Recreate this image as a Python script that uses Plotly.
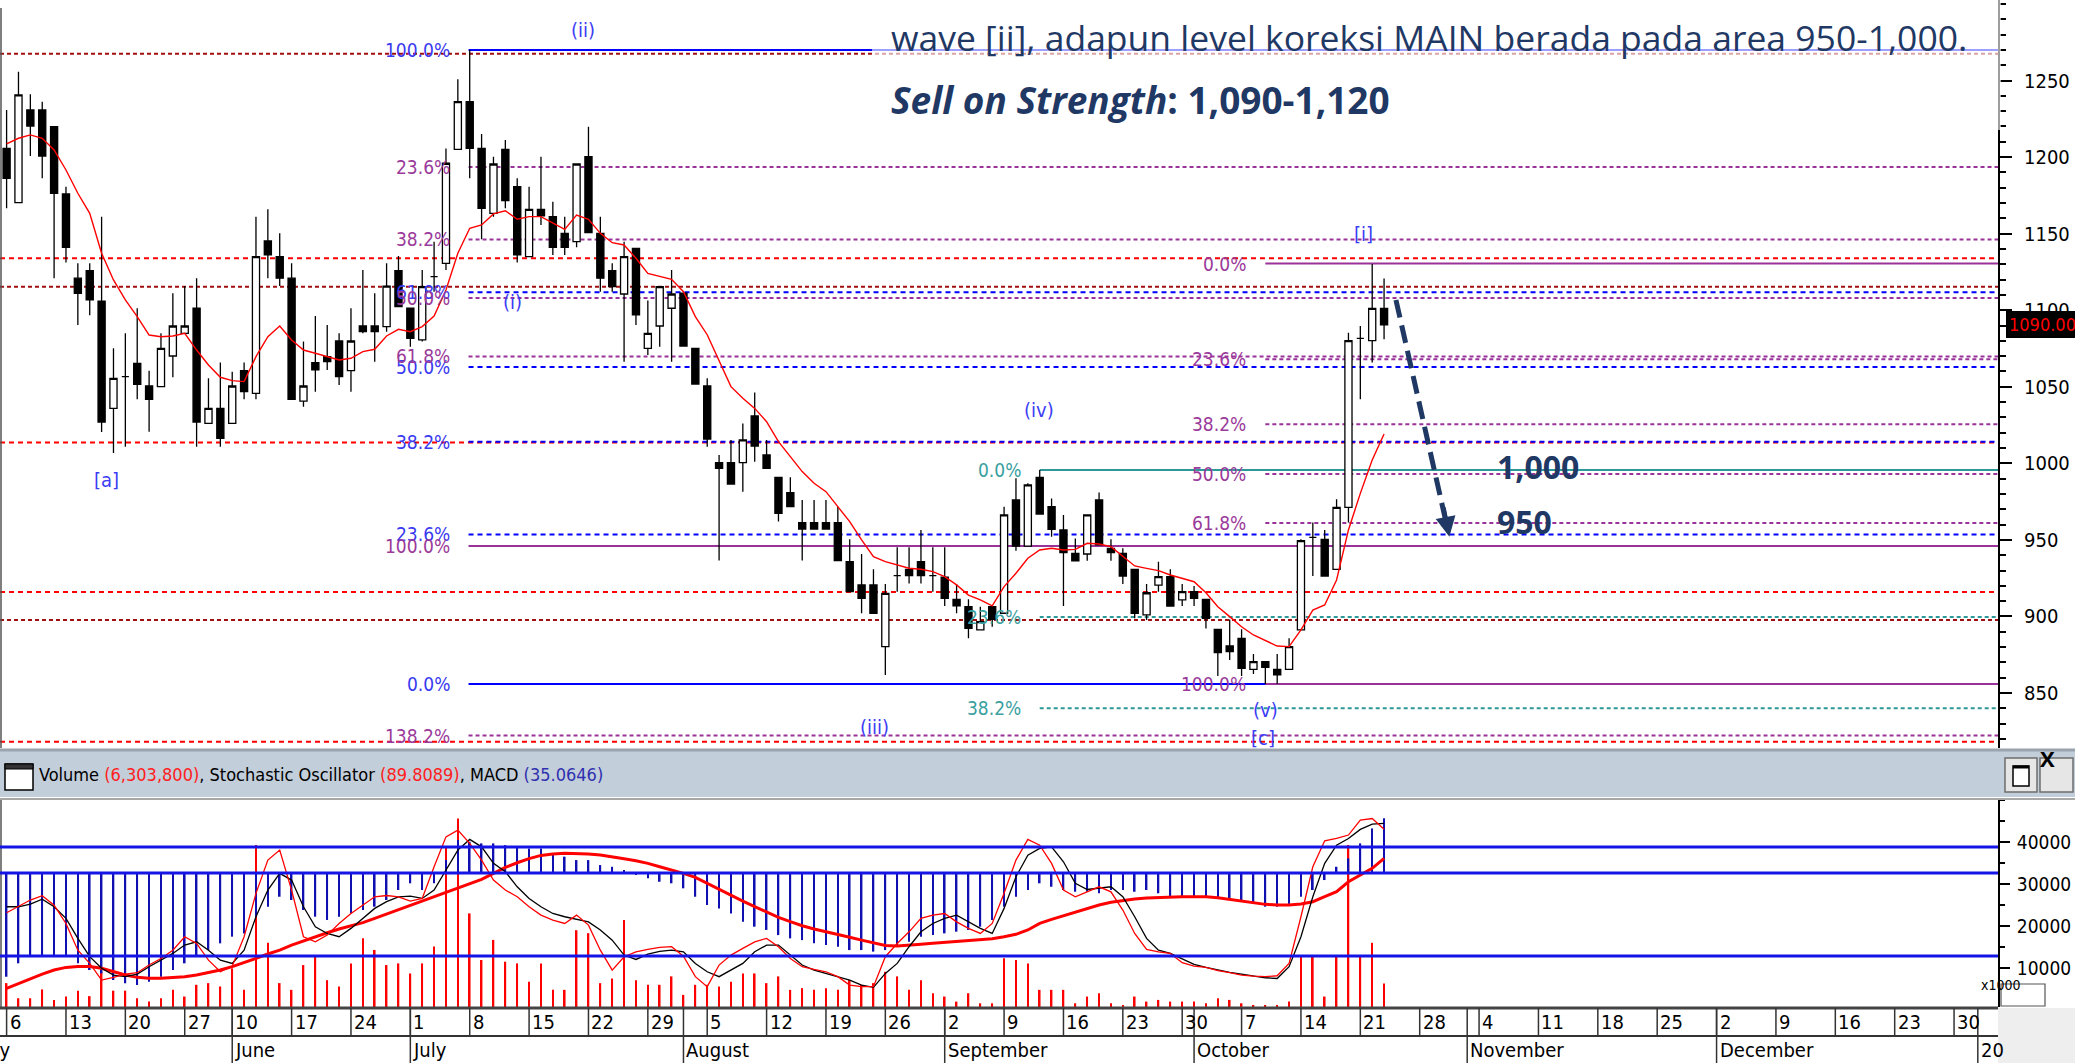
import plotly.graph_objects as go

W, H = 2075, 1063
def px(v): return v / W
def py(v): return 1 - v / H

NARROW = "'Liberation Sans Narrow', 'Arial Narrow', 'DejaVu Sans Condensed', 'Roboto Condensed', sans-serif"
SANS = "'Open Sans', 'Noto Sans', sans-serif"
NAVY = "#1F3864"

# ---------------- price data (MAIN, daily, 6 May - 23 Oct) ----------------
open_ = [1205.7, 1170.3, 1230.8, 1230.8, 1219.9, 1175.9, 1120.9, 1125.9, 1106.0, 1035.9,
         1056.6, 1065.3, 1050.5, 1050.1, 1070.1, 1084.9, 1101.3, 1026.1, 1035.9, 1026.1,
         1060.5, 1045.7, 1145.2, 1135.0, 1120.9, 1040.7, 1065.8, 1069.7, 1079.9, 1060.5,
         1089.7, 1089.7, 1089.3, 1125.9, 1101.3, 1080.6, 1121.9, 1130.6, 1205.1, 1236.2,
         1205.7, 1163.3, 1205.1, 1180.7, 1135.0, 1165.9, 1161.1, 1150.2, 1144.8, 1200.3,
         1150.2, 1125.9, 1110.6, 1140.4, 1075.1, 1089.7, 1101.3, 1111.1, 1075.1, 1050.5,
         1000.5, 1000.5, 1000.5, 1031.0, 1005.5, 990.9, 980.9, 961.3, 961.3, 961.3,
         961.3, 935.8, 920.6, 920.6, 880.3, 926.7, 930.8, 935.8, 926.7, 925.6,
         911.2, 906.4, 891.2, 906.4, 902.1, 976.1, 946.0, 990.9, 971.7, 956.5,
         941.2, 940.8, 976.1, 944.5, 941.2, 930.8, 901.0, 920.5, 926.0, 910.8,
         916.2, 911.2, 891.6, 880.7, 885.7, 865.5, 870.5, 865.5, 865.5, 891.2,
         951.7, 950.4, 930.8, 971.3, 1081.6, 1080.1, 1101.2]
high = [1230.8, 1255.8, 1241.0, 1236.2, 1219.9, 1180.7, 1130.6, 1130.6, 1161.1, 1075.1,
        1084.9, 1101.3, 1060.5, 1084.9, 1111.1, 1115.8, 1120.9, 1055.5, 1065.8, 1059.9,
        1065.8, 1161.1, 1165.9, 1150.2, 1130.6, 1079.5, 1096.2, 1090.4, 1084.9, 1101.3,
        1126.3, 1111.1, 1130.6, 1135.4, 1101.3, 1126.3, 1144.8, 1205.7, 1250.8, 1270.0,
        1215.1, 1200.3, 1211.2, 1186.2, 1180.7, 1200.3, 1170.9, 1161.1, 1195.5, 1219.9,
        1161.1, 1130.6, 1144.8, 1140.4, 1106.3, 1115.4, 1126.3, 1111.1, 1075.1, 1055.5,
        1005.5, 1015.3, 1026.1, 1046.2, 1015.3, 990.9, 990.9, 976.1, 976.1, 976.1,
        971.7, 950.4, 940.8, 930.8, 921.2, 945.2, 945.2, 956.5, 945.2, 945.2,
        921.2, 911.2, 906.4, 906.4, 971.7, 990.2, 987.0, 995.6, 977.1, 966.3,
        951.0, 966.3, 980.9, 950.4, 944.5, 930.8, 921.2, 935.8, 930.8, 921.2,
        919.9, 911.2, 891.6, 898.1, 891.6, 875.5, 870.5, 875.5, 885.7, 950.4,
        961.3, 956.5, 976.5, 1085.3, 1089.7, 1130.2, 1120.8]
low = [1166.6, 1170.3, 1200.7, 1186.2, 1120.9, 1131.1, 1090.4, 1096.7, 1020.5, 1006.8,
       1010.9, 1041.8, 1020.7, 1050.1, 1056.2, 1084.9, 1010.9, 1026.1, 1010.9, 1026.1,
       1041.8, 1041.8, 1120.9, 1115.8, 1041.8, 1037.0, 1046.8, 1061.0, 1051.2, 1046.8,
       1084.9, 1066.4, 1086.0, 1102.3, 1076.2, 1079.5, 1112.1, 1126.3, 1205.1, 1186.2,
       1146.3, 1161.1, 1166.6, 1131.1, 1135.0, 1155.7, 1136.1, 1136.1, 1141.1, 1150.7,
       1112.1, 1112.1, 1066.4, 1090.4, 1070.8, 1076.2, 1066.4, 1076.6, 1051.8, 1010.9,
       936.5, 986.5, 981.5, 1001.1, 996.8, 962.0, 971.7, 936.5, 957.1, 957.1,
       936.5, 916.2, 902.1, 902.1, 861.8, 916.2, 921.6, 921.6, 916.2, 906.9,
       902.1, 885.7, 891.2, 893.3, 902.1, 943.0, 946.0, 966.9, 952.1, 906.8,
       936.4, 936.4, 946.7, 936.4, 921.2, 898.8, 897.7, 916.2, 906.8, 906.8,
       906.8, 892.2, 861.1, 871.6, 861.1, 862.4, 855.9, 855.9, 865.5, 891.2,
       926.4, 926.4, 930.8, 961.3, 1041.8, 1065.8, 1081.0]
close = [1186.2, 1240.6, 1220.3, 1200.7, 1176.4, 1141.1, 1111.1, 1106.7, 1027.0, 1055.5,
         1056.6, 1051.6, 1041.8, 1075.1, 1089.7, 1089.7, 1027.0, 1035.9, 1016.4, 1050.5,
         1046.8, 1135.0, 1136.1, 1120.9, 1041.8, 1050.5, 1061.0, 1066.4, 1056.6, 1079.9,
         1086.0, 1086.0, 1115.8, 1102.3, 1081.7, 1115.4, 1121.9, 1196.0, 1236.2, 1205.7,
         1166.6, 1195.5, 1171.6, 1136.1, 1165.9, 1161.6, 1141.1, 1141.1, 1195.5, 1150.7,
         1120.9, 1115.4, 1135.0, 1096.9, 1084.9, 1115.4, 1110.6, 1076.6, 1051.8, 1015.9,
         996.8, 986.5, 1015.3, 1011.3, 996.8, 967.4, 971.7, 957.1, 957.1, 957.1,
         936.5, 916.2, 911.9, 902.1, 915.1, 926.7, 926.7, 926.7, 926.7, 911.9,
         906.9, 892.3, 896.6, 898.1, 966.3, 946.0, 985.9, 966.9, 956.9, 941.7,
         936.4, 966.3, 946.7, 941.7, 926.4, 902.0, 915.5, 926.0, 906.8, 916.2,
         911.8, 898.8, 876.4, 877.0, 866.1, 870.5, 866.8, 861.8, 880.3, 949.5,
         951.7, 926.4, 971.3, 1080.1, 1081.6, 1101.2, 1090.4]
ma_line = [1208.6, 1212.3, 1214.5, 1212.3, 1204.7, 1191.6, 1176.4, 1163.3, 1137.2, 1119.8,
           1106.7, 1095.8, 1083.8, 1082.7, 1083.2, 1084.9, 1074.0, 1064.2, 1056.2, 1054.0,
           1053.4, 1069.7, 1082.7, 1089.7, 1080.6, 1074.0, 1071.9, 1069.7, 1067.5, 1068.6,
           1073.0, 1074.5, 1083.2, 1087.5, 1086.0, 1089.3, 1096.2, 1113.2, 1137.2, 1153.5,
           1155.7, 1162.9, 1165.0, 1159.4, 1161.1, 1161.1, 1156.8, 1152.8, 1162.2, 1159.4,
           1150.2, 1144.1, 1142.6, 1133.9, 1124.1, 1121.9, 1120.2, 1112.1, 1095.8, 1084.0,
           1067.5, 1050.1, 1042.5, 1035.9, 1027.2, 1014.2, 1004.4, 994.6, 987.0, 981.5,
           971.7, 961.9, 950.0, 939.1, 935.8, 933.6, 931.5, 930.8, 929.3, 926.0,
           920.6, 914.0, 910.8, 906.9, 919.5, 928.2, 938.0, 943.4, 944.5, 943.4,
           943.8, 947.8, 947.3, 945.6, 939.1, 933.0, 931.4, 929.9, 927.1, 924.9,
           922.7, 915.5, 906.4, 899.9, 893.3, 887.9, 884.2, 880.7, 880.3, 891.2,
           904.2, 907.5, 923.8, 956.5, 980.4, 1002.2, 1019.2]

# ---------------- indicator data ----------------
volume_k = [6400, 2800, 2800, 4900, 2400, 3200, 4600, 3300, 9100, 4600,
            4600, 2800, 2000, 2800, 4800, 3200, 6000, 6400, 5600, 9900,
            4800, 39300, 16000, 6400, 4800, 10700, 13100, 7100, 5600, 11100,
            17100, 14300, 10700, 11100, 8700, 11100, 15100, 38900, 45600, 23000,
            11900, 16700, 11500, 11100, 6700, 11100, 4800, 4800, 19000, 18300,
            6400, 7500, 21400, 7100, 6000, 6000, 8000, 3600, 6000, 6000,
            5600, 6700, 8700, 8700, 6400, 8000, 4800, 5200, 4800, 5200,
            4800, 7100, 6000, 6400, 9100, 8000, 4800, 7100, 4000, 3200,
            2000, 4000, 1600, 1600, 12300, 11900, 11100, 4800, 4800, 4800,
            1600, 3200, 4000, 1600, 1200, 3200, 2000, 2400, 2000, 2000,
            2000, 1600, 2800, 2400, 1600, 1200, 1200, 1200, 2000, 12700,
            12700, 3200, 12700, 39300, 12700, 16000, 6304]
stoch_k = [43.8, 47.1, 50.8, 53.2, 48.0, 37.9, 23.2, 15.9, 6.7, 8.2,
           10.0, 10.8, 15.0, 18.6, 23.2, 30.6, 26.9, 17.7, 11.3, 14.4,
           30.6, 54.5, 72.8, 78.3, 56.3, 30.6, 27.8, 31.5, 37.9, 43.4,
           48.0, 52.6, 53.3, 52.6, 50.2, 51.7, 69.1, 85.6, 89.3, 82.0,
           72.8, 61.8, 56.3, 52.6, 47.1, 42.5, 39.8, 37.9, 42.5, 37.0,
           23.2, 12.2, 19.6, 22.3, 23.6, 24.7, 25.1, 19.9, 8.6, 3.1,
           15.0, 20.5, 24.2, 27.8, 29.7, 25.1, 18.6, 14.1, 12.6, 11.3,
           8.6, 4.0, 3.1, 3.1, 19.6, 26.9, 33.3, 40.7, 42.5, 43.4,
           38.8, 35.2, 32.4, 37.9, 54.5, 72.8, 84.2, 81.0, 71.0, 56.3,
           52.6, 55.3, 58.1, 55.3, 45.3, 32.4, 23.6, 22.3, 21.4, 16.3,
           14.4, 13.7, 11.9, 10.8, 9.5, 8.9, 8.6, 9.1, 15.9, 41.6,
           69.1, 83.4, 84.7, 86.6, 94.8, 95.7, 89.8]
stoch_d = [47.1, 47.1, 48.6, 51.3, 47.1, 40.7, 29.7, 19.6, 13.2, 9.5,
           8.6, 10.0, 14.1, 17.7, 21.4, 26.0, 27.8, 23.2, 17.7, 15.9,
           23.2, 41.6, 56.3, 65.5, 61.8, 47.1, 36.1, 32.4, 30.6, 35.2,
           40.7, 46.2, 49.9, 52.6, 53.0, 51.7, 56.3, 67.3, 78.3, 84.2,
           80.1, 71.0, 66.4, 58.1, 51.7, 47.1, 43.4, 41.6, 40.1, 38.8,
           34.3, 28.7, 20.5, 18.1, 21.0, 22.5, 23.2, 22.3, 15.9, 11.3,
           8.6, 12.2, 15.9, 22.3, 26.0, 26.0, 20.5, 15.0, 12.2, 10.4,
           8.9, 6.7, 4.0, 2.7, 10.4, 15.9, 25.1, 33.3, 37.9, 40.7,
           42.5, 38.8, 35.2, 32.4, 46.2, 63.6, 75.5, 79.2, 80.1, 71.9,
           60.0, 56.6, 57.2, 58.1, 52.6, 41.6, 29.7, 23.2, 21.4, 18.6,
           15.4, 13.7, 12.2, 11.0, 10.0, 9.1, 8.0, 7.6, 14.1, 30.6,
           52.6, 71.0, 81.0, 84.7, 89.7, 92.6, 93.0]
macd = [-66.5, -57.9, -53.6, -53.6, -53.6, -53.6, -57.9, -62.2, -64.3, -68.6,
        -70.7, -71.8, -69.7, -66.5, -62.2, -57.9, -53.6, -49.4, -45.1, -40.8,
        -38.7, -28.0, -21.6, -15.2, -17.3, -23.7, -28.0, -30.1, -28.0, -25.9,
        -23.7, -21.6, -17.3, -10.9, -6.6, -10.9, -6.6, 8.3, 21.1, 20.1,
        19.0, 19.0, 17.9, 16.9, 15.8, 15.8, 12.6, 10.5, 8.3, 8.3,
        5.1, 4.0, 1.9, -1.3, -3.4, -5.6, -6.6, -9.8, -15.2, -20.5,
        -22.7, -25.9, -31.2, -34.4, -36.5, -39.8, -41.9, -43.0, -45.1, -46.2,
        -47.2, -49.4, -49.4, -50.4, -49.4, -47.2, -44.0, -40.8, -39.8, -38.7,
        -37.6, -36.5, -34.4, -30.1, -21.6, -15.2, -10.9, -6.6, -8.8, -10.9,
        -12.0, -12.0, -13.0, -10.9, -10.9, -12.0, -10.9, -13.0, -15.2, -15.2,
        -15.2, -15.2, -16.2, -17.3, -18.4, -19.5, -21.6, -21.6, -20.5, -15.2,
        -10.9, -4.5, 4.0, 9.4, 19.0, 28.6, 35.0646]
macd_signal = [-73.9, -70.7, -67.5, -64.8, -62.2, -60.5, -60.0, -60.0, -61.1, -63.3,
               -65.4, -66.9, -67.5, -67.5, -67.1, -66.5, -65.4, -63.9, -62.2, -60.0,
               -57.5, -54.7, -51.9, -49.4, -46.2, -43.4, -40.8, -38.3, -35.9, -33.8,
               -31.8, -29.1, -26.3, -23.7, -21.0, -18.0, -15.2, -12.6, -9.8, -7.1,
               -4.1, -0.2, 3.6, 6.6, 9.2, 11.3, 12.2, 12.6, 12.6, 12.2,
               11.5, 10.5, 9.2, 7.9, 6.2, 4.0, 1.9, -0.2, -2.8, -6.6,
               -10.9, -14.5, -18.0, -21.6, -25.0, -28.4, -31.2, -33.8, -35.9, -37.8,
               -39.5, -41.2, -43.0, -44.7, -46.4, -46.8, -46.4, -45.7, -45.1, -44.5,
               -44.0, -43.6, -43.0, -42.1, -40.8, -39.3, -36.5, -32.3, -29.7, -27.4,
               -25.4, -23.3, -20.5, -18.8, -17.7, -16.7, -16.0, -15.6, -15.2, -15.2,
               -15.2, -15.2, -15.8, -16.9, -17.7, -18.8, -20.1, -20.5, -20.5, -19.9,
               -18.4, -15.2, -12.0, -5.6, -1.3, 3.0, 9.4]

# ---------------- time axis (trading-day index) ----------------
week_idx = [0, 5, 10, 15, 19, 24, 29, 34, 39, 44, 49, 54, 59, 64, 69, 74, 79, 84, 89,
            94, 99, 104, 109, 114, 119, 124, 129, 134, 139, 144, 149, 154, 159, 164]
week_labels = ["6", "13", "20", "27", "10", "17", "24", "1", "8", "15", "22", "29", "5",
               "12", "19", "26", "2", "9", "16", "23", "30", "7", "14", "21", "28", "4",
               "11", "18", "25", "2", "9", "16", "23", "30"]
month_idx = [-2, 19, 34, 57, 79, 100, 123, 144, 166]
month_labels = ["May", "June", "July", "August", "September", "October", "November", "December", "20"]

price_ticks = [850, 900, 950, 1000, 1050, 1100, 1150, 1200, 1250]
vol_ticks = [10000, 20000, 30000, 40000]

# ---------------- drawn levels ----------------
red_levels = [1133.9, 1013.6, 916.0, 818.2]
darkred_levels = [1267.5, 1115.4, 897.7]
fib_blue_start = 38.9
fib_blue_levels = [1270.0, 1111.8, 1063.0, 1014.1, 953.6, 855.9]
fib_blue_labels = ["100.0%", "61.8%", "50.0%", "38.2%", "23.6%", "0.0%"]
fib_blue_solid = [True, False, False, False, False, True]
fib_purple_levels = [1193.5, 1146.2, 1108.0, 1069.8, 946.0, 822.2]
fib_purple_labels = ["23.6%", "38.2%", "50.0%", "61.8%", "100.0%", "138.2%"]
fib_purple_solid = [False, False, False, False, True, False]
fib_teal_start = 87.0
fib_teal_levels = [995.6, 899.6, 840.0]
fib_teal_labels = ["0.0%", "23.6%", "38.2%"]
fib_teal_solid = [True, False, False]
fib_wave_start = 106.0
fib_wave_levels = [1130.5, 1068.0, 1025.5, 993.0, 961.0, 855.9]
fib_wave_labels = ["0.0%", "23.6%", "38.2%", "50.0%", "61.8%", "100.0%"]
fib_wave_solid = [True, False, False, False, False, True]

wave_text = ["(ii)", "(i)", "[a]", "(iii)", "(iv)", "[i]", "(v)", "[c]"]
wave_x = [48.5, 42.6, 8.4, 73.1, 86.9, 114.3, 106.0, 105.8]
wave_y = [1283, 1105.4, 989, 827.8, 1034.8, 1149.8, 838.9, 820.6]

arrow_from = (117.0, 1106.7)
arrow_to = (121.5, 952.0)
target_labels = ["1,000", "950"]
target_y = [998, 962]

X_RANGE = [-0.556, 167.7]
X_MAX = X_RANGE[1]
X_DOM = [0, px(1998)]

x = list(range(len(close)))

fig = go.Figure()
fig.add_trace(go.Candlestick(
    x=x, open=open_, high=high, low=low, close=close, xaxis="x", yaxis="y",
    increasing=dict(line=dict(color="black", width=1.3), fillcolor="white"),
    decreasing=dict(line=dict(color="black", width=1.3), fillcolor="black"),
    whiskerwidth=0, hoverinfo="skip", showlegend=False))
fig.add_trace(go.Scatter(x=x, y=ma_line, mode="lines", line=dict(color="#FF0000", width=1.4),
                         xaxis="x", yaxis="y", hoverinfo="skip", showlegend=False))

# lower pane
fig.add_trace(go.Bar(x=x, y=volume_k, width=0.14, marker=dict(color="#FF0000", line=dict(width=0)),
                     xaxis="x2", yaxis="y2", hoverinfo="skip", showlegend=False))
fig.add_trace(go.Bar(x=x, y=macd, width=0.14, marker=dict(color="#1010B0", line=dict(width=0)),
                     xaxis="x2", yaxis="y3", hoverinfo="skip", showlegend=False))
fig.add_trace(go.Scatter(x=x, y=macd_signal, mode="lines", line=dict(color="#FF0000", width=3),
                         xaxis="x2", yaxis="y3", hoverinfo="skip", showlegend=False))
fig.add_trace(go.Scatter(x=x, y=stoch_d, mode="lines", line=dict(color="black", width=1.3),
                         xaxis="x2", yaxis="y4", hoverinfo="skip", showlegend=False))
fig.add_trace(go.Scatter(x=x, y=stoch_k, mode="lines", line=dict(color="#FF0000", width=1.3),
                         xaxis="x2", yaxis="y4", hoverinfo="skip", showlegend=False))

shapes = []
ann = []

def hline(y, x0, color, dash, width=2, xref="x", yref="y", layer="below"):
    shapes.append(dict(type="line", xref=xref, yref=yref, x0=x0, x1=X_MAX, y0=y, y1=y,
                       line=dict(color=color, width=width, dash=dash), layer=layer))

DOT = "4px,3px"
DASH = "5px,4px"
for lv in red_levels:
    hline(lv, X_RANGE[0], "#FF0000", DASH)
for lv in darkred_levels:
    hline(lv, X_RANGE[0], "#A01010", DOT)

LBL = 19

def fib(start, levels, labels, solid, color, lcolor, dash, shift=-17):
    for lv, lb, s in zip(levels, labels, solid):
        hline(lv, start, lcolor, "solid" if s else dash, 2)
        ann.append(dict(x=start, y=lv, xref="x", yref="y", text=lb, showarrow=False,
                        xanchor="right", yanchor="middle", xshift=shift,
                        font=dict(family=NARROW, size=LBL, color=color)))

fib(fib_blue_start, fib_blue_levels, fib_blue_labels, fib_blue_solid, "#3A3AF0", "#0000FF", DASH)
fib(fib_blue_start, fib_purple_levels, fib_purple_labels, fib_purple_solid, "#9A3A9A", "#993399", DOT)
fib(fib_teal_start, fib_teal_levels, fib_teal_labels, fib_teal_solid, "#3AA0A0", "#2E9898", DOT)
fib(fib_wave_start, fib_wave_levels, fib_wave_labels, fib_wave_solid, "#9A3A9A", "#993399", DOT)

for t, wx, wy in zip(wave_text, wave_x, wave_y):
    ann.append(dict(x=wx, y=wy, xref="x", yref="y", text=t, showarrow=False,
                    font=dict(family=NARROW, size=LBL + 1, color="#3C3CF5")))

# downward arrow (dashed)
shapes.append(dict(type="line", xref="x", yref="y", x0=arrow_from[0], y0=arrow_from[1],
                   x1=arrow_to[0] - 0.35, y1=arrow_to[1] + 12, layer="above",
                   line=dict(color=NAVY, width=5, dash="18px,8px")))
ann.append(dict(x=arrow_to[0], y=arrow_to[1], ax=arrow_to[0] - 0.5, ay=arrow_to[1] + 20,
                xref="x", yref="y", axref="x", ayref="y", text="", showarrow=True,
                arrowhead=2, arrowsize=1.0, arrowwidth=4, arrowcolor=NAVY, standoff=0))
for t, ty in zip(target_labels, target_y):
    ann.append(dict(x=px(1495), y=ty, xref="paper", yref="y", text="<b>%s</b>" % t,
                    showarrow=False, xanchor="left", yanchor="middle",
                    font=dict(family=SANS, size=32, color=NAVY)))

# price label at right
ann.append(dict(x=px(2006), y=close[-1], xref="paper", yref="y", text="1090.000",
                showarrow=False, xanchor="left", yanchor="middle", bgcolor="black",
                bordercolor="black", borderpad=2,
                font=dict(family=NARROW, size=18, color="#FF0000")))

# left borders
shapes.append(dict(type="line", xref="paper", yref="paper", x0=px(1), x1=px(1), y0=py(748), y1=py(8),
                   line=dict(color="#555555", width=1.5)))
shapes.append(dict(type="line", xref="paper", yref="paper", x0=px(1), x1=px(1), y0=py(1007), y1=py(799),
                   line=dict(color="#555555", width=1.5)))

# lower pane reference lines
for lv in [80, 20]:
    shapes.append(dict(type="line", xref="paper", yref="y4", x0=0, x1=X_DOM[1], y0=lv, y1=lv,
                       line=dict(color="#1414E6", width=3), layer="above"))
shapes.append(dict(type="line", xref="paper", yref="y3", x0=0, x1=X_DOM[1], y0=0, y1=0,
                   line=dict(color="#1414E6", width=3), layer="above"))

# semi-transparent text box at top
shapes.append(dict(type="rect", xref="paper", yref="paper", x0=px(872), x1=px(2001), y0=py(130), y1=1,
                   fillcolor="rgba(255,255,255,0.62)", line=dict(width=0), layer="above"))
ann.append(dict(x=px(889), y=py(37), xref="paper", yref="paper", xanchor="left", yanchor="middle",
                text="wave [ii], adapun level koreksi MAIN berada pada area 950-1,000.",
                showarrow=False, font=dict(family=SANS, size=35.5, color=NAVY)))
ann.append(dict(x=px(889), y=py(99), xref="paper", yref="paper", xanchor="left", yanchor="middle",
                text="<b><i>Sell on Strength</i>: 1,090-1,120</b>",
                showarrow=False, font=dict(family=SANS, size=37, color=NAVY)))

# header strip of lower pane
shapes.append(dict(type="rect", xref="paper", yref="paper", x0=0, x1=1, y0=py(797), y1=py(749),
                   fillcolor="#C2CEDA", line=dict(width=0)))
shapes.append(dict(type="line", xref="paper", yref="paper", x0=0, x1=1, y0=py(750), y1=py(750),
                   line=dict(color="#9AA4AE", width=3)))
shapes.append(dict(type="line", xref="paper", yref="paper", x0=0, x1=1, y0=py(799), y1=py(799),
                   line=dict(color="#A8A8A8", width=2)))
shapes.append(dict(type="rect", xref="paper", yref="paper", x0=px(5), x1=px(33), y0=py(790), y1=py(764),
                   fillcolor="white", line=dict(color="black", width=1.5)))
shapes.append(dict(type="rect", xref="paper", yref="paper", x0=px(5), x1=px(33), y0=py(769), y1=py(764),
                   fillcolor="#333333", line=dict(color="black", width=1)))
ann.append(dict(x=px(37), y=py(774), xref="paper", yref="paper", xanchor="left", yanchor="middle",
                showarrow=False, font=dict(family=NARROW, size=18, color="black"),
                text="Volume <span style='color:#FF2020'>(6,303,800)</span>, Stochastic Oscillator "
                     "<span style='color:#FF2020'>(89.8089)</span>, MACD "
                     "<span style='color:#3030B0'>(35.0646)</span>"))
for bx0, bx1 in [(2005, 2037), (2040, 2073)]:
    shapes.append(dict(type="rect", xref="paper", yref="paper", x0=px(bx0), x1=px(bx1), y0=py(792), y1=py(758),
                       fillcolor="#E6E6E6", line=dict(color="#6E6E6E", width=1.5)))
shapes.append(dict(type="rect", xref="paper", yref="paper", x0=px(2013), x1=px(2029), y0=py(786), y1=py(766),
                   fillcolor="white", line=dict(color="black", width=1.5)))
shapes.append(dict(type="line", xref="paper", yref="paper", x0=px(2013), x1=px(2029), y0=py(767), y1=py(767),
                   line=dict(color="black", width=3)))
ann.append(dict(x=px(2056.5), y=py(775), xref="paper", yref="paper", text="<b>X</b>", showarrow=False,
                font=dict(family=SANS, size=22, color="black")))

# x1000 box
shapes.append(dict(type="rect", xref="paper", yref="paper", x0=px(2001), x1=px(2045), y0=py(1006), y1=py(984),
                   fillcolor="white", line=dict(color="#555555", width=1.2)))
ann.append(dict(x=px(2023), y=py(995), xref="paper", yref="paper", text="x1000", showarrow=False,
                font=dict(family=NARROW, size=14, color="black")))

# time axis rows
shapes.append(dict(type="rect", xref="paper", yref="paper", x0=X_DOM[1], x1=1, y0=0, y1=py(1008),
                   fillcolor="#EEEEEE", line=dict(width=0)))
shapes.append(dict(type="line", xref="paper", yref="paper", x0=0, x1=X_DOM[1], y0=py(1008), y1=py(1008),
                   line=dict(color="#444444", width=3)))
shapes.append(dict(type="line", xref="paper", yref="paper", x0=0, x1=X_DOM[1], y0=py(1036), y1=py(1036),
                   line=dict(color="#333333", width=2)))
for wi, wl in zip(week_idx, week_labels):
    shapes.append(dict(type="line", xref="x2", yref="paper", x0=wi, x1=wi, y0=py(1036), y1=py(1008),
                       line=dict(color="#333333", width=1.5)))
    ann.append(dict(x=wi, y=py(1022), xref="x2", yref="paper", text=wl, showarrow=False,
                    xanchor="left", yanchor="middle", xshift=1,
                    font=dict(family=NARROW, size=20, color="black")))
for mi, ml in zip(month_idx, month_labels):
    if mi >= X_RANGE[0]:
        shapes.append(dict(type="line", xref="x2", yref="paper", x0=mi, x1=mi, y0=0, y1=py(1008),
                           line=dict(color="#333333", width=1.5)))
        ann.append(dict(x=mi, y=py(1050), xref="x2", yref="paper", text=ml, showarrow=False,
                        xanchor="left", yanchor="middle", xshift=1,
                        font=dict(family=NARROW, size=20, color="black")))
    else:
        ann.append(dict(x=X_RANGE[0] + 0.05, y=py(1050), xref="x2", yref="paper", text=ml, showarrow=False,
                        xanchor="right", yanchor="middle", xshift=12,
                        font=dict(family=NARROW, size=20, color="black")))

fig.update_layout(
    width=W, height=H, margin=dict(l=0, r=0, t=0, b=0),
    paper_bgcolor="white", plot_bgcolor="white", showlegend=False, hovermode=False,
    barmode="overlay", boxgap=0.4, boxgroupgap=0.0,
    xaxis=dict(domain=X_DOM, range=X_RANGE, visible=False, anchor="y",
               rangeslider=dict(visible=False)),
    yaxis=dict(domain=[py(748), 1], range=[814.1, 1302.6], side="right", anchor="x",
               tickmode="array", tickvals=price_ticks, ticktext=[str(v) for v in price_ticks],
               ticks="outside", ticklen=12, tickwidth=2, tickcolor="black",
               minor=dict(ticks="outside", ticklen=6, tickwidth=1.5, tickcolor="black",
                          dtick=10, tick0=0, showgrid=False),
               showline=True, linecolor="black", linewidth=2, showgrid=False, zeroline=False,
               ticklabelstandoff=8, tickfont=dict(family=NARROW, size=20, color="black")),
    xaxis2=dict(domain=X_DOM, range=X_RANGE, visible=False, anchor="y2"),
    yaxis2=dict(domain=[py(1007), py(798)], range=[714, 50476], side="right", anchor="x2",
                tickmode="array", tickvals=vol_ticks, ticktext=[str(v) for v in vol_ticks],
                ticks="outside", ticklen=10, tickwidth=2, tickcolor="black",
                minor=dict(ticks="outside", ticklen=5, tickwidth=1.5, tickcolor="black",
                           dtick=5000, tick0=0, showgrid=False),
                showline=True, linecolor="black", linewidth=2, showgrid=False, zeroline=False,
                ticklabelstandoff=3, tickfont=dict(family=NARROW, size=19, color="black")),
    yaxis3=dict(overlaying="y2", range=[-85.9, 48.1], visible=False, anchor="x2"),
    yaxis4=dict(overlaying="y2", range=[-8.1, 107.0], visible=False, anchor="x2"),
    shapes=shapes, annotations=ann,
)

fig.write_html("out.html")
